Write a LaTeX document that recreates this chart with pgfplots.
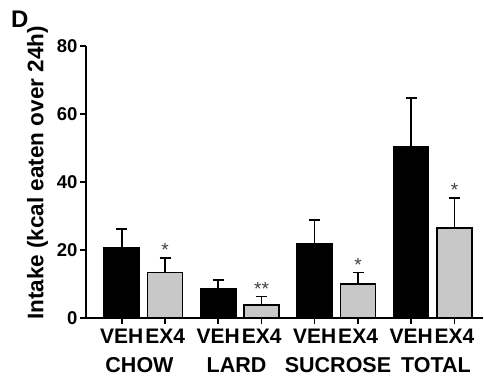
\documentclass[border=0pt]{standalone}
\usepackage{fontspec}
\setmainfont{Liberation Sans}
\usepackage{pgfplots}
\usepackage{pgfplotstable}
\pgfplotsset{compat=1.18}
\pgfplotstableread{
x y e
-0.225 20.7 5.4
0.775 8.7 2.4
1.775 21.7 7.1
2.775 50.3 14.4
}\veh
\pgfplotstableread{
x y e
0.225 13.4 4.2
1.225 3.9 2.4
2.225 10.0 3.4
3.225 26.4 8.9
}\exfour
\definecolor{lgray}{RGB}{200,200,200}
\begin{document}
\begin{tikzpicture}
\useasboundingbox (-86pt,-60pt) rectangle (398pt,318pt);
\begin{axis}[
  at={(0,0)}, anchor=south west,
  scale only axis, width=397pt, height=272pt,
  xmin=-0.596, xmax=3.52, ymin=0, ymax=80,
  axis x line*=bottom, axis y line*=left,
  axis line style={line width=1.8pt, -},
  ytick={0,20,40,60,80},
  xtick={-0.225,0.225,0.775,1.225,1.775,2.225,2.775,3.225},
  xticklabels={VEH,EX4,VEH,EX4,VEH,EX4,VEH,EX4},
  tick style={line width=1.6pt, black},
  major tick length=6pt,
  tick align=outside,
  /pgf/number format/assume math mode=true,
  yticklabel style={font=\fontsize{18.5}{20}\selectfont\bfseries, xshift=1pt},
  xticklabel style={font=\fontsize{21}{22}\selectfont\bfseries, anchor=base, yshift=-19pt, inner sep=0pt},
  clip=false,
]
\addplot[ybar, bar shift=0pt, bar width=35pt, fill=black, draw=black, line width=1.6pt,
  error bars/.cd, y dir=plus, y explicit,
  error bar style={line width=1.6pt, black},
  error mark options={rotate=90, mark size=5.5pt, line width=1.6pt, black}]
  table[x=x, y=y, y error=e]{\veh};
\addplot[ybar, bar shift=0pt, bar width=35pt, fill=lgray, draw=black, line width=1.6pt,
  error bars/.cd, y dir=plus, y explicit,
  error bar style={line width=1.6pt, black},
  error mark options={rotate=90, mark size=5.5pt, line width=1.6pt, black}]
  table[x=x, y=y, y error=e]{\exfour};
\node[font=\fontsize{19}{20}\selectfont, text=black!75, anchor=south, inner sep=1pt] at (axis cs:0.225,17.6) {*};
\node[font=\fontsize{19}{20}\selectfont, text=black!75, anchor=south, inner sep=1pt] at (axis cs:1.225,6.3) {**};
\node[font=\fontsize{19}{20}\selectfont, text=black!75, anchor=south, inner sep=1pt] at (axis cs:2.225,13.4) {*};
\node[font=\fontsize{19}{20}\selectfont, text=black!75, anchor=south, inner sep=1pt] at (axis cs:3.225,35.3) {*};
\end{axis}
\node[font=\fontsize{21.5}{22}\selectfont\bfseries, anchor=base, inner sep=0pt] at (53.5pt,-54pt) {CHOW};
\node[font=\fontsize{21.5}{22}\selectfont\bfseries, anchor=base, inner sep=0pt] at (150.5pt,-54pt) {LARD};
\node[font=\fontsize{21.5}{22}\selectfont\bfseries, anchor=base, inner sep=0pt] at (252pt,-54pt) {SUCROSE};
\node[font=\fontsize{21.5}{22}\selectfont\bfseries, anchor=base, inner sep=0pt] at (350pt,-54pt) {TOTAL};
\node[font=\fontsize{22.5}{24}\selectfont\bfseries, rotate=90, anchor=base, inner sep=0pt] at (-42.7pt,145pt) {Intake (kcal eaten over 24h)};
\node[font=\fontsize{24}{26}\selectfont\bfseries, anchor=base west, inner sep=0pt] at (-75pt,290pt) {D};
\end{tikzpicture}
\end{document}
